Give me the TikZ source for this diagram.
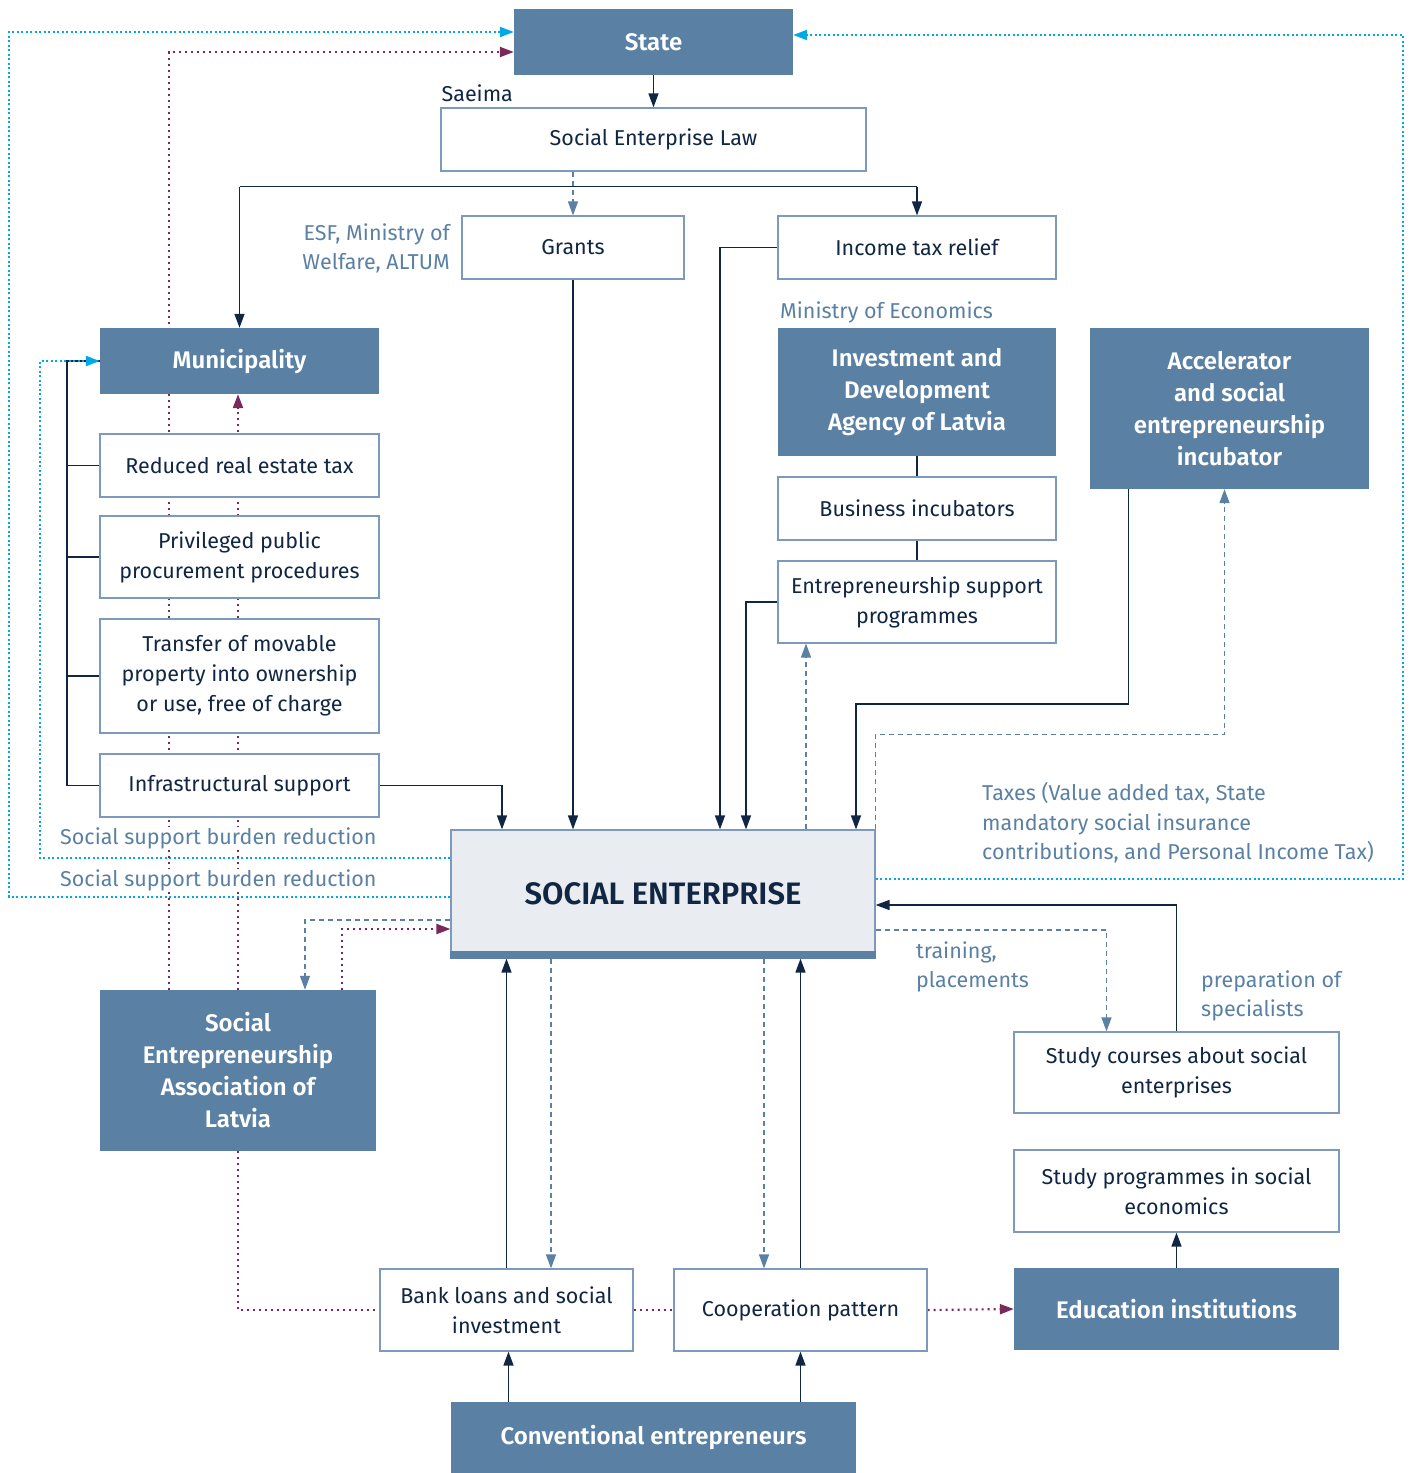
\documentclass[tikz,border=0pt]{standalone}
\usepackage{fontspec}
\setmainfont{Fira Sans}[BoldFont={Fira Sans SemiBold}]
\usepackage{tikz}
\usetikzlibrary{arrows.meta, positioning, calc, backgrounds}
\definecolor{ecblue}{RGB}{90,128,164}
\definecolor{ecnavy}{RGB}{16,38,66}
\definecolor{ecedge}{RGB}{125,154,188}
\definecolor{eccyan}{RGB}{0,168,230}
\definecolor{ecplum}{RGB}{122,42,90}
\definecolor{ecpale}{RGB}{233,236,241}

\tikzset{
  box/.style={draw=ecedge, line width=1.2pt, fill=white, text=ecnavy,
    align=center, inner sep=0pt, font=\fontsize{21.5}{30}\selectfont},
  bluebox/.style={fill=ecblue, text=white, align=center, inner sep=0pt,
    font=\fontsize{24}{32}\selectfont\bfseries},
  note/.style={text=ecblue, inner sep=0pt, font=\fontsize{21.5}{29.5}\selectfont},
  tip/.style={-{Triangle[length=14pt,width=10pt]}},
  flow/.style={draw=ecnavy, line width=1.5pt, tip},
  link/.style={draw=ecnavy, line width=1.5pt},
  hint/.style={draw=ecblue, line width=1.3pt, dash pattern=on 5pt off 4pt, tip},
  relief/.style={draw=ecplum, line width=2.2pt, dash pattern=on 2pt off 4pt, tip},
  tax/.style={draw=eccyan, line width=2.2pt, dash pattern=on 2pt off 2.5pt, tip}
}

\begin{document}
\begin{tikzpicture}[x=1pt, y=-1pt]
  \useasboundingbox (0,0) rectangle (1410,1473);

  % top level
  \node[bluebox, minimum width=279pt, minimum height=66pt] (state) at (653.5,42) {State};
  \node[box, minimum width=425pt, minimum height=63pt] (law) at (653.5,139.5) {Social Enterprise Law};
  \node[box, minimum width=222pt, minimum height=63pt] (grants) at (573,247.5) {Grants};
  \node[box, minimum width=278pt, minimum height=63pt] (itax) at (917,247.5) {Income tax relief};

  % municipality branch
  \node[bluebox, minimum width=279pt, minimum height=66pt] (muni) at (239.5,361) {Municipality};
  \node[box, minimum width=279pt, minimum height=63pt] (retax) at (239.5,465.5) {Reduced real estate tax};
  \node[box, minimum width=279pt, minimum height=82pt] (procure) at (239.5,557) {Privileged public\\procurement procedures};
  \node[box, minimum width=279pt, minimum height=114pt] (transfer) at (239.5,676) {Transfer of movable\\property into ownership\\or use, free of charge};
  \node[box, minimum width=279pt, minimum height=63pt] (infra) at (239.5,785.5) {Infrastructural support};

  % ministry of economics branch
  \node[bluebox, minimum width=278pt, minimum height=128pt] (ida) at (917,392) {Investment and\\Development\\Agency of Latvia};
  \node[box, minimum width=278pt, minimum height=63pt] (incub) at (917,508.5) {Business incubators};
  \node[box, minimum width=278pt, minimum height=82pt] (esp) at (917,602) {Entrepreneurship support\\programmes};
  \node[bluebox, minimum width=279pt, minimum height=161pt] (accel) at (1229.5,408.5) {Accelerator\\and social\\entrepreneurship\\incubator};

  % centre
  \node[draw=ecedge, line width=1.2pt, fill=ecpale, text=ecnavy, inner sep=0pt,
        minimum width=424pt, minimum height=128pt,
        font=\fontsize{31}{36}\selectfont\bfseries] (se) at (663,894) {SOCIAL ENTERPRISE};
  \draw[ecblue, line width=8pt] ([yshift=4pt]se.south west) -- ([yshift=4pt]se.south east);

  % lower part
  \node[bluebox, minimum width=276pt, minimum height=161pt] (assoc) at (238,1070.5) {Social\\Entrepreneurship\\Association of\\Latvia};
  \node[box, minimum width=325pt, minimum height=81pt] (study) at (1176.5,1072.5) {Study courses about social\\enterprises};
  \node[box, minimum width=325pt, minimum height=82pt] (sprog) at (1176.5,1191) {Study programmes in social\\economics};
  \node[bluebox, minimum width=325pt, minimum height=82pt] (edu) at (1176.5,1309) {Education institutions};
  \node[box, minimum width=253pt, minimum height=82pt] (bank) at (506.5,1310) {Bank loans and social\\investment};
  \node[box, minimum width=253pt, minimum height=82pt] (coop) at (800.5,1310) {Cooperation pattern};
  \node[bluebox, minimum width=405pt, minimum height=71pt] (conv) at (653.5,1437.5) {Conventional entrepreneurs};

  % labels
  \node[box, draw=none, fill=none, anchor=base west] (saeima) at (441,101) {Saeima};
  \node[note, align=right, anchor=east] (esf) at (450,248.5) {ESF, Ministry of\\Welfare, ALTUM};
  \node[note, anchor=base west] (minecon) at (780,318) {Ministry of Economics};
  \node[note, fill=white, anchor=west] (burden1) at (60,838) {Social support burden reduction};
  \node[note, fill=white, anchor=west] (burden2) at (60,880) {Social support burden reduction};
  \node[note, align=left, anchor=west] (taxes) at (982,823) {Taxes (Value added tax, State\\mandatory social insurance\\contributions, and Personal Income Tax)};
  \node[note, align=left, anchor=west] (training) at (916,967) {training,\\placements};
  \node[note, align=left, anchor=west] (prep) at (1201,996) {preparation of\\specialists};

  \begin{scope}[on background layer]
    % state and law
    \draw[flow] (state) -- (law);
    \draw[hint] (law.south -| grants) -- (grants);
    \coordinate (split) at ([yshift=-15pt]law.south);
    \draw[link] (split -| muni) -- (split -| itax);
    \draw[flow] (split -| muni) -- (muni);
    \draw[flow] (split -| itax) -- (itax);

    % support into the social enterprise
    \draw[flow] (grants) -- (grants |- se.north);
    \draw[flow] (itax.west) -| ([xshift=57pt]se.north);
    \draw[flow] (esp.west) -| ([xshift=83pt]se.north);
    \draw[flow] ([xshift=-101pt]accel.south) -- ++(0,215) -| ([xshift=193pt]se.north);
    \draw[flow] (infra.east) -| ([xshift=-161pt]se.north);
    \draw[link] (ida) -- (incub);
    \draw[link] (incub) -- (esp);
    \draw[hint] ([xshift=143pt]se.north) -- ([xshift=-111pt]esp.south);
    \draw[hint] (se.north east) -- ++(0,-95) -| ([xshift=-5pt]accel.south);

    % municipality bracket
    \draw[link] (muni.west) -- ++(-33,0) |- (infra.west);
    \foreach \b in {retax, procure, transfer}
      \draw[link] (\b.west) -- ++(-33,0);

    % taxes and burden reduction
    \draw[tax] ([yshift=15pt]se.east) -| (1403,35) -- ([yshift=7pt]state.east);
    \draw[tax] ([yshift=-3pt]se.west) -| (9,32) -- ([yshift=10pt]state.west);
    \draw[tax] ([yshift=36pt]se.west) -| (40,361) -- (muni.west);

    % association
    \draw[relief] ([xshift=-69pt]assoc.north) |- ([yshift=-10pt]state.west);
    \draw[relief] (assoc.north) -- (assoc.north |- muni.south);
    \draw[relief] ([xshift=104pt]assoc.north) |- ([yshift=-35pt]se.west);
    \draw[hint] ([yshift=-26pt]se.west) -| ([xshift=67pt]assoc.north);
    \draw[relief, -] (assoc.south) |- (bank.west);
    \draw[relief, -] (bank.east) -- (coop.west);
    \draw[relief] (coop.east) -- (edu.west);

    % finance and cooperation
    \draw[flow] (bank) -- (bank |- se.south);
    \draw[hint] ([xshift=-112pt]se.south) -- ([xshift=-112pt]se.south |- bank.north);
    \draw[flow] (coop) -- (coop |- se.south);
    \draw[hint] ([xshift=101pt]se.south) -- ([xshift=101pt]se.south |- coop.north);
    \draw[flow] ([xshift=-145pt]conv.north) -- ([xshift=-145pt]conv.north |- bank.south);
    \draw[flow] ([xshift=147pt]conv.north) -- ([xshift=147pt]conv.north |- coop.south);

    % education
    \draw[flow] (edu) -- (sprog);
    \draw[flow] (study.north) |- ([yshift=-11pt]se.east);
    \draw[hint] ([yshift=-36pt]se.east) -| ([xshift=-70pt]study.north);
  \end{scope}
\end{tikzpicture}
\end{document}
